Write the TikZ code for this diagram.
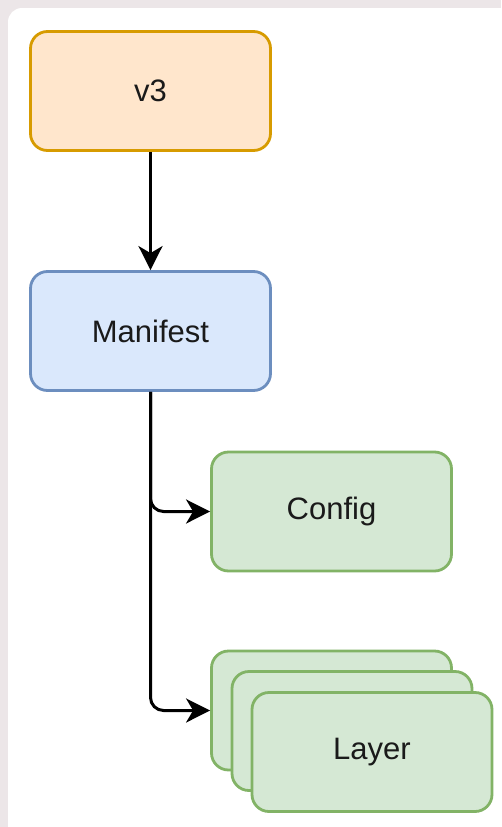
\documentclass[tikz,border=0pt]{standalone}
\usepackage{fontspec}
\setmainfont{Liberation Sans}
\usetikzlibrary{arrows.meta}
\definecolor{bgc}{RGB}{236,230,232}
\definecolor{orfill}{HTML}{FFE6CC}
\definecolor{ordraw}{HTML}{D79B00}
\definecolor{blfill}{HTML}{DAE8FC}
\definecolor{bldraw}{HTML}{6C8EBF}
\definecolor{grfill}{HTML}{D5E8D4}
\definecolor{grdraw}{HTML}{82B366}
\definecolor{txt}{HTML}{1A1A1A}
\tikzset{
  box/.style={rectangle, rounded corners=17pt, line width=2.8pt, minimum width=240pt, minimum height=119pt, inner sep=0pt, text=txt, font=\fontsize{31}{36}\selectfont},
  orbox/.style={box, fill=orfill, draw=ordraw},
  blbox/.style={box, fill=blfill, draw=bldraw},
  grbox/.style={box, fill=grfill, draw=grdraw},
  conn/.style={line width=3pt, black, rounded corners=13pt, -{Stealth[length=24pt,width=24pt,inset=7pt]}}
}
\begin{document}
\begin{tikzpicture}[x=1pt,y=-1pt]
\useasboundingbox (0,0) rectangle (501,827);
\fill[bgc] (0,0) rectangle (501,827);
\fill[white, rounded corners=14pt] (8,8) rectangle (540,880);
\node[orbox] (v3) at (150.5,91) {v3};
\node[blbox] (man) at (150.5,331) {Manifest};
\node[grbox] (cfg) at (331.5,511.5) {Config};
\node[grbox] (l1) at (331.5,710.5) {};
\node[grbox] (l2) at (352,731) {};
\node[grbox] (l3) at (372,752) {Layer};
\draw[conn] (v3.south) -- (man.north);
\draw[conn] (man.south) |- (cfg.west);
\draw[conn] (man.south) |- (l1.west);
\end{tikzpicture}
\end{document}
